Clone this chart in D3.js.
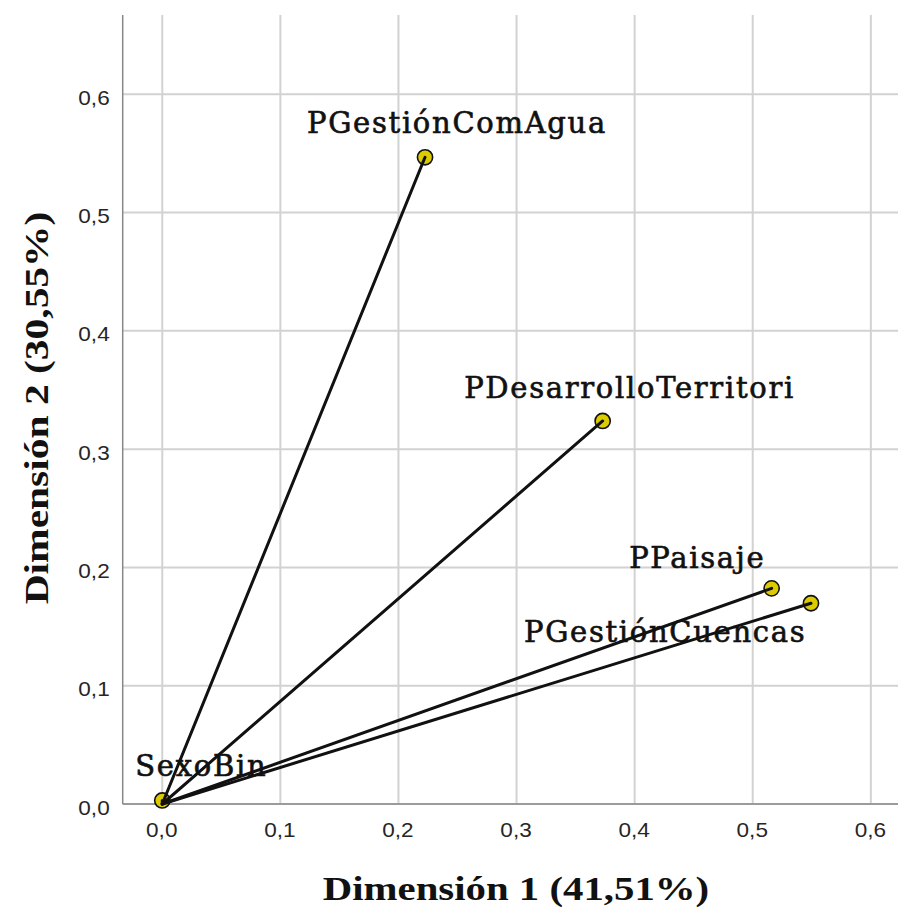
<!DOCTYPE html>
<html>
<head>
<meta charset="utf-8">
<script src="https://cdn.jsdelivr.net/npm/d3@7"></script>
<style>
  html, body { margin: 0; padding: 0; background: #fff; }
  svg { display: block; }
</style>
</head>
<body>
<svg id="chart" width="898" height="908"></svg>
<script>
// Component loadings (biplot vectors)
const variables = ["PGestiónComAgua", "PDesarrolloTerritori", "PPaisaje", "PGestiónCuencas", "SexoBin"];
const dim1 = [0.2225, 0.3729, 0.5160, 0.5493, 0.0000];
const dim2 = [0.5467, 0.3238, 0.1823, 0.1697, 0.0030];

const xTicks = [0, 0.1, 0.2, 0.3, 0.4, 0.5, 0.6];
const yTicks = [0, 0.1, 0.2, 0.3, 0.4, 0.5, 0.6];
const xTitle = "Dimensión 1 (41,51%)";
const yTitle = "Dimensión 2 (30,55%)";

// Layout
const plot = { left: 122.7, right: 898, top: 15, bottom: 804 };
const xDomain = [-0.0335, 0.623];
const yDomain = [0, 0.667];
const serif = "'Liberation Serif', 'Times New Roman', serif";
const labelSerif = "'DejaVu Serif', serif";
const sans = "'Liberation Sans', Arial, sans-serif";

// Label placement relative to each point (px): start offset and baseline offset
const labelOffsets = {
  "PGestiónComAgua":      [-118, -24],
  "PDesarrolloTerritori": [-138.5, -22.7],
  "PPaisaje":             [-142.5, -20],
  "PGestiónCuencas":      [-287, 38.4],
  "SexoBin":              [-27, -24]
};

const svg = d3.select("#chart");
const x = d3.scaleLinear().domain(xDomain).range([plot.left, plot.right]);
const y = d3.scaleLinear().domain(yDomain).range([plot.bottom, plot.top]);
const fmt = d => d3.format(".1f")(d).replace(".", ",");

// Grid
const grid = svg.append("g");
grid.selectAll("line.v").data(xTicks).join("line")
  .attr("x1", d => x(d)).attr("x2", d => x(d))
  .attr("y1", plot.top).attr("y2", plot.bottom)
  .attr("stroke", "#d2d2d2").attr("stroke-width", 2);
grid.selectAll("line.h").data(yTicks).join("line")
  .attr("x1", plot.left).attr("x2", plot.right)
  .attr("y1", d => y(d)).attr("y2", d => y(d))
  .attr("stroke", "#d2d2d2").attr("stroke-width", 2);

// Axes
const xAxis = svg.append("g").attr("transform", `translate(0,${plot.bottom})`)
  .call(d3.axisBottom(x).tickValues(xTicks).tickFormat(fmt).tickSize(0).tickPadding(0));
const yAxis = svg.append("g").attr("transform", `translate(${plot.left},0)`)
  .call(d3.axisLeft(y).tickValues(yTicks).tickFormat(fmt).tickSize(0).tickPadding(0));

[xAxis, yAxis].forEach(a => {
  a.select(".domain").remove();
  a.selectAll("text")
    .attr("fill", "#262626")
    .attr("x", 0).attr("y", 0).attr("dy", null)
    .style("font-family", sans)
    .style("font-size", "20px");
});
xAxis.selectAll("text").attr("transform", "translate(-1,32.5) scale(1.13,1)");
yAxis.selectAll("text").attr("transform", "translate(-13,10) scale(1.13,1)");

// Axis lines
svg.append("line")
  .attr("x1", plot.left).attr("x2", plot.left)
  .attr("y1", plot.top).attr("y2", plot.bottom)
  .attr("stroke", "#888").attr("stroke-width", 1.5);
svg.append("line")
  .attr("x1", plot.left).attr("x2", plot.right)
  .attr("y1", plot.bottom).attr("y2", plot.bottom)
  .attr("stroke", "#888").attr("stroke-width", 1.5);

// Axis titles
svg.append("text")
  .attr("transform", `translate(516,900) scale(1.2,1)`)
  .attr("text-anchor", "middle")
  .style("font-family", serif)
  .style("font-weight", "bold").style("font-size", "34px")
  .attr("fill", "#111")
  .text(xTitle);
svg.append("text")
  .attr("transform", `translate(48,408) rotate(-90) scale(1.22,1)`)
  .attr("text-anchor", "middle")
  .style("font-family", serif)
  .style("font-weight", "bold").style("font-size", "34px")
  .attr("fill", "#111")
  .text(yTitle);

const pts = variables.map((v, i) => ({ name: v, d1: dim1[i], d2: dim2[i] }));

// Point labels
svg.append("g").selectAll("text").data(pts).join("text")
  .attr("x", d => x(d.d1) + labelOffsets[d.name][0])
  .attr("y", d => y(d.d2) + labelOffsets[d.name][1])
  .style("font-family", labelSerif)
  .style("font-size", "29px")
  .style("letter-spacing", "1.7px")
  .attr("fill", "#111")
  .attr("stroke", "#111").attr("stroke-width", 0.65)
  .text(d => d.name);

// Points
svg.append("g").selectAll("circle").data(pts).join("circle")
  .attr("cx", d => x(d.d1)).attr("cy", d => y(d.d2))
  .attr("r", 7.6)
  .attr("fill", "#dccb00").attr("stroke", "#111").attr("stroke-width", 1.6);

// Vectors from origin
svg.append("g").selectAll("line").data(pts).join("line")
  .attr("x1", x(0)).attr("y1", y(0))
  .attr("x2", d => x(d.d1)).attr("y2", d => y(d.d2))
  .attr("stroke", "#111").attr("stroke-width", 3)
  .attr("stroke-linecap", "round");
</script>
</body>
</html>
